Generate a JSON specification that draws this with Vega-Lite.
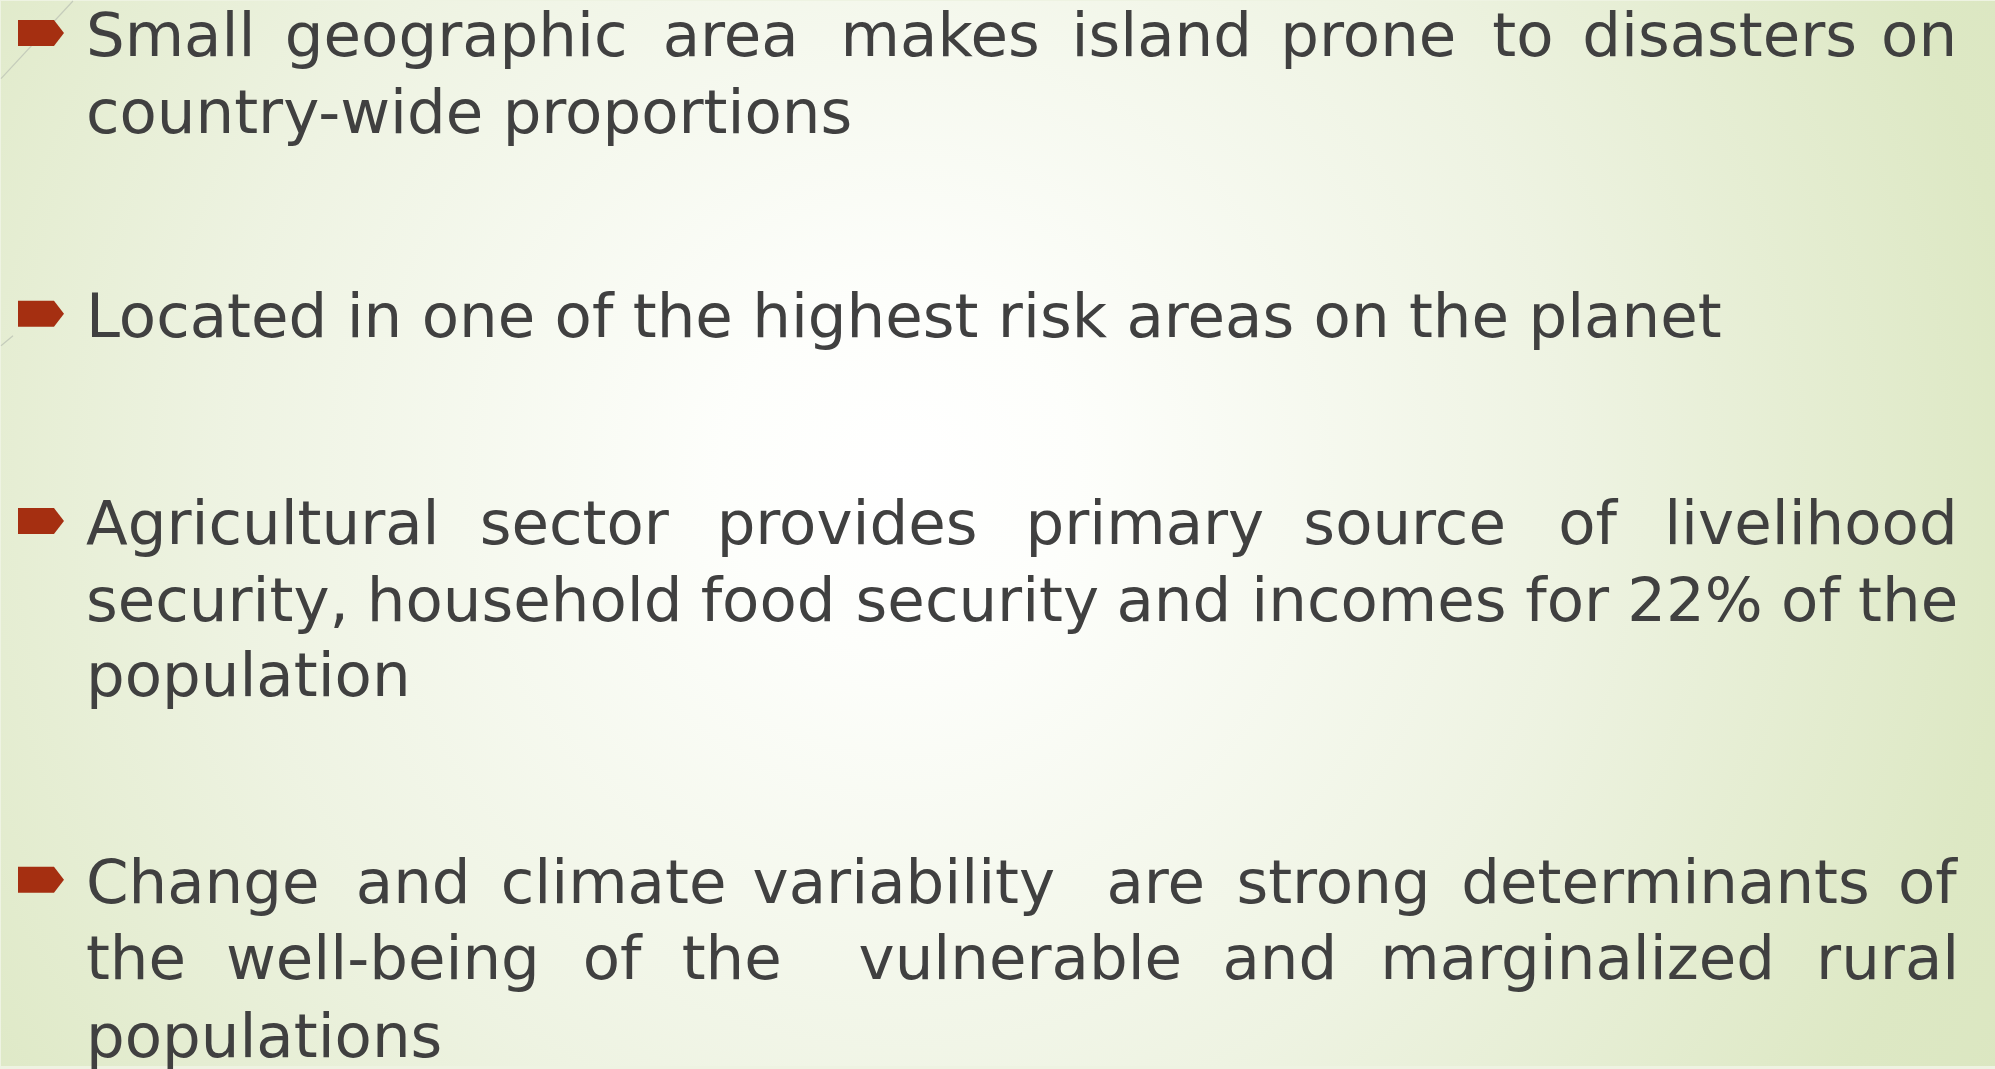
{
  "$schema": "https://vega.github.io/schema/vega-lite/v6.json",
  "width": 1995,
  "height": 1069,
  "autosize": {"type": "fit", "contains": "padding"},
  "padding": 0,
  "background": "#eef3e2",
  "config": {"view": {"stroke": null}},
  "datasets": {
    "panel": [{"x0": 0, "x1": 1995, "y0": 0, "y1": 1069}],
    "deco": [
      {"x": 0, "y": 78, "x2": 72, "y2": 0},
      {"x": 0, "y": 346, "x2": 12, "y2": 336}
    ],
    "bullets": [
      {"bx": 40, "by": 32},
      {"bx": 40, "by": 314},
      {"bx": 40, "by": 522},
      {"bx": 40, "by": 882}
    ],
    "words": [
      {"t": "Small", "x": 85, "y": 55},
      {"t": "geographic", "x": 284, "y": 55},
      {"t": "area", "x": 662, "y": 55},
      {"t": "makes", "x": 840, "y": 55},
      {"t": "island", "x": 1071, "y": 55},
      {"t": "prone", "x": 1280, "y": 55},
      {"t": "to", "x": 1492, "y": 55},
      {"t": "disasters", "x": 1582, "y": 55},
      {"t": "on", "x": 1881, "y": 55},
      {"t": "country-wide proportions", "x": 85, "y": 132},
      {"t": "Located in one of the highest risk areas on the planet", "x": 85, "y": 337},
      {"t": "Agricultural", "x": 85, "y": 545},
      {"t": "sector", "x": 479, "y": 545},
      {"t": "provides", "x": 716, "y": 545},
      {"t": "primary", "x": 1025, "y": 545},
      {"t": "source", "x": 1303, "y": 545},
      {"t": "of", "x": 1558, "y": 545},
      {"t": "livelihood", "x": 1664, "y": 545},
      {"t": "security,", "x": 85, "y": 622},
      {"t": "household", "x": 366, "y": 622},
      {"t": "food", "x": 700, "y": 622},
      {"t": "security", "x": 855, "y": 622},
      {"t": "and", "x": 1116, "y": 622},
      {"t": "incomes", "x": 1251, "y": 622},
      {"t": "for", "x": 1525, "y": 622},
      {"t": "22%", "x": 1627, "y": 622},
      {"t": "of", "x": 1781, "y": 622},
      {"t": "the", "x": 1858, "y": 622},
      {"t": "population", "x": 85, "y": 698},
      {"t": "Change", "x": 85, "y": 905},
      {"t": "and", "x": 355, "y": 905},
      {"t": "climate", "x": 500, "y": 905},
      {"t": "variability", "x": 752, "y": 905},
      {"t": "are", "x": 1106, "y": 905},
      {"t": "strong", "x": 1236, "y": 905},
      {"t": "determinants", "x": 1461, "y": 905},
      {"t": "of", "x": 1898, "y": 905},
      {"t": "the", "x": 85, "y": 982},
      {"t": "well-being", "x": 225, "y": 982},
      {"t": "of", "x": 582, "y": 982},
      {"t": "the", "x": 681, "y": 982},
      {"t": "vulnerable", "x": 858, "y": 982},
      {"t": "and", "x": 1222, "y": 982},
      {"t": "marginalized", "x": 1380, "y": 982},
      {"t": "rural", "x": 1816, "y": 982},
      {"t": "populations", "x": 85, "y": 1060}
    ]
  },
  "layer": [
    {
      "data": {"name": "panel"},
      "mark": {
        "type": "rect",
        "fill": {
          "gradient": "radial",
          "x1": 0.45, "y1": 0.47, "r1": 0,
          "x2": 0.45, "y2": 0.47, "r2": 0.75,
          "stops": [
            {"offset": 0, "color": "#ffffff"},
            {"offset": 0.12, "color": "#fdfefb"},
            {"offset": 0.45, "color": "#eef3e2"},
            {"offset": 0.75, "color": "#dde8c4"},
            {"offset": 1, "color": "#d8e4bc"}
          ]
        },
        "strokeWidth": 0
      },
      "encoding": {
        "x": {"field": "x0", "type": "quantitative", "scale": {"domain": [0, 1995], "nice": false, "zero": false}, "axis": null},
        "x2": {"field": "x1"},
        "y": {"field": "y0", "type": "quantitative", "scale": {"domain": [0, 1069], "nice": false, "zero": false, "reverse": true}, "axis": null},
        "y2": {"field": "y1"}
      }
    },
    {
      "data": {"name": "deco"},
      "mark": {"type": "rule", "color": "#c5ccbb", "strokeWidth": 1.2},
      "encoding": {
        "x": {"field": "x", "type": "quantitative"},
        "y": {"field": "y", "type": "quantitative"},
        "x2": {"field": "x2"},
        "y2": {"field": "y2"}
      }
    },
    {
      "data": {"name": "bullets"},
      "mark": {
        "type": "point",
        "shape": "M-1,-0.565L0.565,-0.565L1,0L0.565,0.565L-1,0.565Z",
        "size": 2116,
        "filled": true,
        "color": "#a52f11",
        "opacity": 1,
        "strokeWidth": 0
      },
      "encoding": {
        "x": {"field": "bx", "type": "quantitative"},
        "y": {"field": "by", "type": "quantitative"}
      }
    },
    {
      "data": {"name": "words"},
      "mark": {
        "type": "text",
        "align": "left",
        "baseline": "alphabetic",
        "font": "DejaVu Sans",
        "fontSize": 61,
        "color": "#404040"
      },
      "encoding": {
        "x": {"field": "x", "type": "quantitative"},
        "y": {"field": "y", "type": "quantitative"},
        "text": {"field": "t"}
      }
    }
  ]
}
